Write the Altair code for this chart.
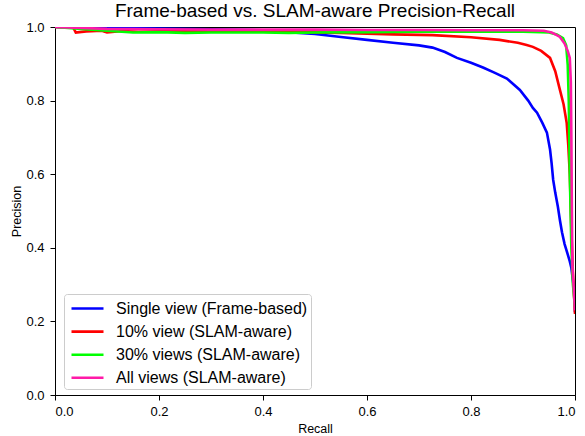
import altair as alt
import pandas as pd

series_names = [
    "Single view (Frame-based)",
    "10% view (SLAM-aware)",
    "30% views (SLAM-aware)",
    "All views (SLAM-aware)",
]
series_colors = ["#0000ff", "#ff0000", "#00ff00", "#ff1aa8"]

blue_recall = [0.0, 0.1, 0.2, 0.3, 0.4, 0.47, 0.5, 0.55, 0.6, 0.65, 0.7, 0.726, 0.75, 0.773, 0.8,
               0.823, 0.845, 0.869, 0.894, 0.91, 0.919, 0.927, 0.937, 0.946, 0.952, 0.955, 0.958,
               0.962, 0.967, 0.971, 0.975, 0.98, 0.985, 0.99, 0.993, 0.997, 1.0, 1.0]
blue_precision = [1.0, 0.997, 0.996, 0.994, 0.991, 0.984, 0.981, 0.973, 0.965, 0.957, 0.950, 0.944,
                  0.932, 0.916, 0.903, 0.89, 0.876, 0.86, 0.829, 0.80, 0.78, 0.767, 0.74, 0.713,
                  0.667, 0.63, 0.585, 0.55, 0.512, 0.475, 0.442, 0.41, 0.387, 0.363, 0.345, 0.30,
                  0.26, 0.225]

red_recall = [0.0, 0.035, 0.04, 0.06, 0.09, 0.1, 0.13, 0.16, 0.2, 0.3, 0.4, 0.47, 0.55, 0.6, 0.65,
              0.726, 0.8, 0.855, 0.89, 0.907, 0.919, 0.935, 0.952, 0.962, 0.971, 0.978, 0.984,
              0.987, 0.99, 0.993, 0.996, 1.0]
red_precision = [1.0, 0.999, 0.985, 0.988, 0.99, 0.985, 0.989, 0.987, 0.988, 0.988, 0.987, 0.986,
                 0.984, 0.982, 0.98, 0.978, 0.972, 0.965, 0.957, 0.951, 0.946, 0.935, 0.916, 0.88,
                 0.829, 0.79, 0.74, 0.68, 0.60, 0.45, 0.33, 0.22]

green_recall = [0.0, 0.05, 0.1, 0.15, 0.2, 0.25, 0.3, 0.35, 0.4, 0.45, 0.5, 0.6, 0.7, 0.8, 0.9,
                0.95, 0.965, 0.977, 0.983, 0.986, 0.988, 0.99, 0.993, 0.996, 1.0]
green_precision = [1.0, 0.995, 0.99, 0.985, 0.986, 0.984, 0.985, 0.985, 0.985, 0.984, 0.985, 0.986,
                   0.987, 0.987, 0.987, 0.985, 0.98, 0.97, 0.95, 0.897, 0.80, 0.6, 0.4, 0.3, 0.24]

pink_recall = [0.0, 0.1, 0.2, 0.3, 0.4, 0.5, 0.6, 0.7, 0.8, 0.9, 0.94, 0.955, 0.965, 0.971, 0.98,
               0.986, 0.99, 0.992, 0.993, 0.994, 0.995, 0.998, 1.0]
pink_precision = [1.0, 0.995, 0.994, 0.993, 0.993, 0.993, 0.992, 0.992, 0.991, 0.991, 0.99, 0.985,
                  0.978, 0.973, 0.955, 0.935, 0.916, 0.85, 0.7, 0.5, 0.35, 0.28, 0.23]

tick_values = [0.0, 0.2, 0.4, 0.6, 0.8, 1.0]

all_recall = [blue_recall, red_recall, green_recall, pink_recall]
all_precision = [blue_precision, red_precision, green_precision, pink_precision]

frames = []
for name, rec, prec in zip(series_names, all_recall, all_precision):
    frames.append(pd.DataFrame({
        "Recall": rec,
        "Precision": prec,
        "series": name,
        "idx": list(range(len(rec))),
    }))

FONT = "Liberation Sans"

color_scale = alt.Scale(domain=series_names, range=series_colors)

layers = []
for i, df in enumerate(frames):
    layers.append(
        alt.Chart(df).mark_line(strokeWidth=2.6, clip=True).encode(
            x=alt.X("Recall:Q", scale=alt.Scale(domain=[0, 1], nice=False),
                    axis=alt.Axis(values=tick_values, format=".1f", title="Recall")),
            y=alt.Y("Precision:Q", scale=alt.Scale(domain=[0, 1], nice=False),
                    axis=alt.Axis(values=tick_values, format=".1f", title="Precision")),
            color=alt.Color("series:N", scale=color_scale, title=None,
                            legend=alt.Legend(orient="none", legendX=9, legendY=267,
                                              symbolType="M-1.6,0H1.6", symbolSize=400,
                                              symbolStrokeWidth=2.6, symbolOffset=9,
                                              labelFontSize=16, labelFont=FONT,
                                              labelColor="black", labelOffset=17,
                                              labelLimit=400,
                                              rowPadding=3.1, padding=3,
                                              strokeColor="#cccccc", fillColor="white",
                                              cornerRadius=3)),
            order="idx:Q",
        )
    )

chart = alt.layer(*layers).properties(
    width=520,
    height=368,
    title=alt.TitleParams("Frame-based vs. SLAM-aware Precision-Recall", fontSize=19,
                          font=FONT, fontWeight="normal", color="black", offset=0,
                          baseline="alphabetic", dy=15),
    autosize=alt.AutoSizeParams(type="none"),
    padding={"left": 55, "top": 27, "right": 10, "bottom": 41},
).configure_view(
    stroke="black", strokeWidth=1
).configure_axis(
    grid=False, domainColor="black", tickColor="black", tickSize=5,
    labelFont=FONT, labelFontSize=13, labelColor="black",
    titleFont=FONT, titleFontSize=12.5, titleFontWeight="normal", titleColor="black",
).configure_axisX(labelPadding=5, titlePadding=4).configure_axisY(labelPadding=6, titlePadding=2)

chart.save("out.html", embed_options={"renderer": "svg", "actions": False})
